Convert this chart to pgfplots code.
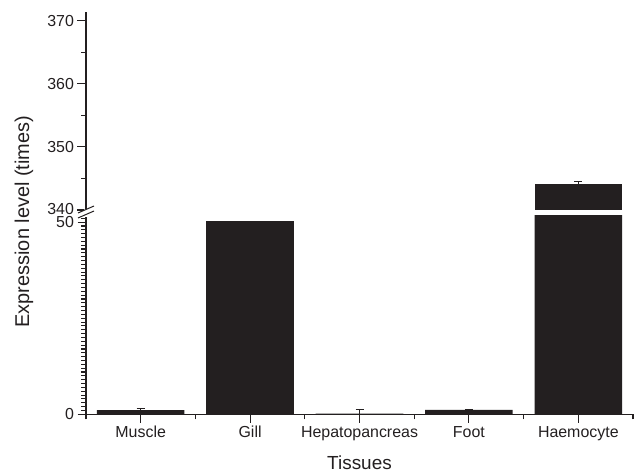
\documentclass[border=0pt]{standalone}
\usepackage{pgfplots}
\pgfplotsset{compat=1.18}
\usepackage{fontspec}
\setmainfont{Liberation Sans}
\definecolor{barc}{RGB}{35,31,32}
\definecolor{axc}{RGB}{35,31,32}

\begin{document}
\begin{tikzpicture}[x=1bp,y=1bp]
\useasboundingbox (0,0) rectangle (635,476);
\pgfplotsset{
  common/.style={
    scale only axis, width=547bp, height=198.3bp,
    xmin=-0.5, xmax=4.5,
    anchor=south west,
    /pgf/number format/assume math mode=true,
    every tick/.style={axc, line width=1.1bp},
    major tick length=8.5bp, minor tick length=5bp,
    tick align=outside,
    axis line style={axc, line width=1.3bp},
    ticklabel style={font=\fontsize{16}{18}\selectfont, text=axc},
    yticklabel style={inner ysep=0pt},
    clip=true,
  },
  plainbar/.style={
    ybar, bar width=0.8, bar shift=0pt, fill=barc, draw=none,
  },
  barstyle/.style={
    ybar, bar width=0.8, bar shift=0pt, fill=barc, draw=none,
    error bars/.cd, y dir=plus, y explicit,
    error bar style={axc, line width=1bp},
    error mark options={rotate=90, mark size=4bp, line width=1bp, axc},
  },
}
% lower axis
\begin{axis}[common,
  at={(86bp,61.7bp)},
  ymin=0, ymax=51.6,
  axis x line*=bottom, axis y line*=left,
  xtick={0,1,2,3,4},
  xticklabels={Muscle,Gill,Hepatopancreas,Foot,Haemocyte},
  minor xtick={-0.5,0.5,1.5,2.5,3.5,4.5},
  ytick={0,50}, minor ytick={1,2,...,51},
  yticklabels={0,\raisebox{-2bp}{50}},
]
\addplot[barstyle] coordinates {
  (0,1.1) +- (0,0.3)
  (2,0.15) +- (0,1.0)
  (3,1.15) +- (0,0.15)
  (4,344.1) +- (0,0.4)
};
\addplot[plainbar] coordinates {
  (1,50.3)
};
\end{axis}
% upper axis
\begin{axis}[common,
  at={(86bp,266bp)},
  ymin=340, ymax=371.4,
  hide x axis, axis y line*=left,
  ytick={340,350,360,370}, minor ytick={345,355,365},
  yticklabels={\raisebox{2bp}{340},350,360,370},
]
\addplot[barstyle] coordinates {
  (4,344.1) +- (0,0.4)
};
\end{axis}
% axis break marks
\fill[white] (84,259) rectangle (88,267);
\draw[axc, line width=1bp] (78,476-213) -- (94,476-206);
\draw[axc, line width=1bp] (78,476-218) -- (94,476-211);
% axis titles
\node[rotate=90, font=\fontsize{20}{22}\selectfont, text=axc] at (24,476-221.7) {Expression level (times)};
\node[font=\fontsize{19}{21}\selectfont, text=axc] at (359.5,476-463) {Tissues};
\end{tikzpicture}
\end{document}
